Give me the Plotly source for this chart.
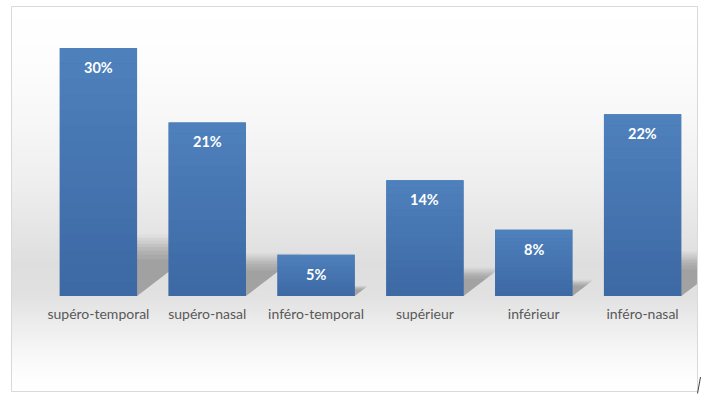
import plotly.graph_objects as go

categories = ["supéro-temporal", "supéro-nasal", "inféro-temporal", "supérieur", "inférieur", "inféro-nasal"]
values = [0.30, 0.21, 0.05, 0.14, 0.08, 0.22]
labels = ["30%", "21%", "5%", "14%", "8%", "22%"]

W, H = 703, 394
L, R, T, B = 44, 697, 48, 296  # plot area in pixels


def px(x):
    return (x - L) / (R - L)


def py(y):
    return (B - y) / (B - T)


shapes = []

# background gradient (paper coords)
stops = [(6, 255), (60, 253), (120, 247), (180, 239), (230, 229), (265, 222),
         (296, 225), (320, 235), (350, 246), (375, 253), (391, 255)]


def gray_at(y):
    for (y0, g0), (y1, g1) in zip(stops[:-1], stops[1:]):
        if y0 <= y <= y1:
            t = (y - y0) / (y1 - y0)
            return round(g0 + (g1 - g0) * t)
    return 255


y = 6
step = 2
while y < 391:
    g = gray_at(y + step / 2)
    shapes.append(dict(type="rect", xref="paper", yref="paper",
                       x0=px(11), x1=px(697), y0=py(y), y1=py(min(y + step, 391)),
                       fillcolor=f"rgb({g},{g},{g})", line=dict(width=0), layer="below"))
    y += step

# border
shapes.append(dict(type="rect", xref="paper", yref="paper",
                   x0=px(11.5), x1=px(697.5), y0=py(6.5), y1=py(391.5),
                   line=dict(color="#d9d9d9", width=1), fillcolor="rgba(0,0,0,0)", layer="below"))

# soft shadows (derived from values)
half = 0.355
layers = [(1.18, 0.05), (1.12, 0.07), (1.06, 0.08), (1.0, 0.09),
          (0.94, 0.10), (0.87, 0.10), (0.79, 0.10), (0.70, 0.10)]
for i, v in enumerate(values):
    h = 0.21 * v
    dx = 0.0208 * v * 100
    for grow, op in layers:
        hh = h * grow
        dd = dx * grow
        path = (f"M {i - half},0 L {i + half},0 "
                f"L {i + half + dd},{hh} L {i - half + dd},{hh} Z")
        shapes.append(dict(type="path", xref="x", yref="y", path=path,
                           fillcolor=f"rgba(110,110,110,{op})", line=dict(width=0), layer="below"))

# bar gradient overlay (derived from values)
top_c = (79, 129, 189)
bot_c = (60, 104, 163)
N = 16
for i, v in enumerate(values):
    for k in range(N):
        t = (k + 0.5) / N
        c = tuple(round(bot_c[j] + (top_c[j] - bot_c[j]) * t) for j in range(3))
        shapes.append(dict(type="rect", xref="x", yref="y",
                           x0=i - half, x1=i + half, y0=v * k / N, y1=v * (k + 1) / N,
                           fillcolor=f"rgb{c}", line=dict(width=0), layer="above"))

# stray slash bottom right
shapes.append(dict(type="line", xref="paper", yref="paper",
                   x0=px(697.5), y0=py(393.5), x1=px(700.5), y1=py(377),
                   line=dict(color="#404040", width=1)))

fig = go.Figure()
fig.add_trace(go.Bar(x=categories, y=values, marker=dict(color="#4775b0", line=dict(width=0)),
                     hoverinfo="skip"))

annotations = []
for c, v, lab in zip(categories, values, labels):
    annotations.append(dict(x=c, y=v, text=f"<b>{lab}</b>", showarrow=False,
                            yanchor="top", yshift=-9,
                            font=dict(family="Lato", size=14.5, color="white")))

fig.update_layout(
    width=W, height=H,
    margin=dict(l=L, r=W - R, t=T, b=H - B, pad=0, autoexpand=False),
    paper_bgcolor="white", plot_bgcolor="rgba(0,0,0,0)",
    bargap=0.29,
    showlegend=False,
    shapes=shapes,
    annotations=annotations,
    xaxis=dict(showgrid=False, showline=False, zeroline=False, ticks="",
               range=[-0.5, len(categories) - 0.5],
               tickfont=dict(family="Lato", size=14, color="#595959"),
               ticklabelstandoff=8, fixedrange=True, automargin=False),
    yaxis=dict(visible=False, range=[0, 0.30], showgrid=False, zeroline=False,
               fixedrange=True, automargin=False),
)

fig.write_html("out.html", config={"displayModeBar": False, "staticPlot": True})

with open("out.html", "r", encoding="utf-8") as f:
    html = f.read()
html = html.replace("<body>", '<body style="margin:0;padding:0;overflow:hidden">', 1)
html = html.replace("<head>", '<head><style>html,body{margin:0;padding:0;overflow:hidden}</style>', 1)
with open("out.html", "w", encoding="utf-8") as f:
    f.write(html)
